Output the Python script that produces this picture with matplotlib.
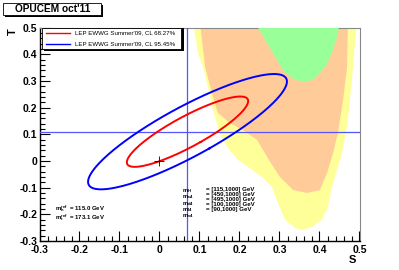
import numpy as np
import matplotlib
matplotlib.use("Agg")
import matplotlib.pyplot as plt
from matplotlib.patches import Rectangle, Polygon
from matplotlib.lines import Line2D

plt.rcParams['font.family'] = ['Liberation Sans', 'DejaVu Sans']
plt.rcParams['mathtext.fontset'] = 'custom'
plt.rcParams['mathtext.rm'] = 'Liberation Sans:bold'
plt.rcParams['mathtext.it'] = 'Liberation Sans:bold'
plt.rcParams['mathtext.bf'] = 'Liberation Sans:bold'

# allowed regions in the (S, T) plane
yellow_s = [0.084, 0.096, 0.109, 0.121, 0.134, 0.151, 0.169, 0.196, 0.221, 0.256, 0.281,
            0.296, 0.314, 0.339, 0.356, 0.381, 0.406, 0.421, 0.431, 0.444, 0.456, 0.464,
            0.471, 0.476, 0.484, 0.489, 0.494]
yellow_t = [0.52, 0.405, 0.352, 0.277, 0.191, 0.105, 0.052, 0.004, -0.022, -0.060, -0.098,
            -0.158, -0.221, -0.251, -0.259, -0.248, -0.221, -0.172, -0.098, -0.034, 0.030, 0.090,
            0.154, 0.229, 0.352, 0.454, 0.52]

orange_s = [0.101, 0.114, 0.131, 0.146, 0.176, 0.209, 0.244, 0.269, 0.301, 0.334, 0.369,
            0.401, 0.419, 0.434, 0.446, 0.459, 0.469, 0.471]
orange_t = [0.52, 0.352, 0.255, 0.180, 0.142, 0.116, 0.079, 0.015, -0.060, -0.109, -0.120,
            -0.109, -0.045, 0.030, 0.105, 0.229, 0.352, 0.52]

green_s = [0.239, 0.264, 0.289, 0.314, 0.339, 0.369, 0.389, 0.414, 0.431, 0.444, 0.451]
green_t = [0.52, 0.454, 0.390, 0.330, 0.304, 0.296, 0.311, 0.352, 0.405, 0.465, 0.52]

# LEP EWWG Summer'09 fit
s0, t0 = 0.07, 0.11
sig_s, sig_t, rho = 0.10, 0.087, 0.87
cl_labels = ["LEP EWWG Summer'09, CL 68.27%", "LEP EWWG Summer'09, CL 95.45%"]
cl_dchi2 = [2.30, 6.18]
cl_colors = ['#ff0000', '#0000ff']

mass_names = [r'$m_{H}$', r'$m_{u4}$', r'$m_{d4}$', r'$m_{l4}$', r'$m_{\nu4}$']
mass_ranges = ['= [115,1000] GeV', '= [450,1000] GeV', '= [495,1000] GeV',
               '= [100,1000] GeV', '= [90,1000] GeV']
ref_names = [r'$m_{h}^{ref}$', r'$m_{t}^{ref}$']
ref_vals = ['= 115.0 GeV', '= 173.1 GeV']

W, H = 399, 270
fig = plt.figure(figsize=(W / 100, H / 100), dpi=100)
ax = fig.add_axes([39.5 / W, 1 - 241 / H, 320 / W, 213.3 / H])

def fx(px):
    return px / W

def fy(py):
    return 1 - py / H

ax.add_patch(Polygon(list(zip(yellow_s, yellow_t)), closed=True, fc='#ffff99', ec='none', zorder=1))
ax.add_patch(Polygon(list(zip(orange_s, orange_t)), closed=True, fc='#ffcc99', ec='none', zorder=2))
ax.add_patch(Polygon(list(zip(green_s, green_t)), closed=True, fc='#99ff99', ec='none', zorder=3))

ax.axvline(s0, color='#5555ff', lw=0.9, zorder=4)
ax.axhline(t0, color='#5555ff', lw=0.9, zorder=4)

# confidence ellipses
cov = np.array([[sig_s ** 2, rho * sig_s * sig_t], [rho * sig_s * sig_t, sig_t ** 2]])
vals, vecs = np.linalg.eigh(cov)
phi = np.linspace(0, 2 * np.pi, 300)
circle = np.vstack([np.cos(phi), np.sin(phi)])
for d, c in zip(cl_dchi2, cl_colors):
    pts = vecs @ (np.sqrt(vals * d)[:, None] * circle)
    ax.plot(s0 + pts[0], t0 + pts[1], color=c, lw=1.4, zorder=5)

ax.plot([0], [0], marker='+', color='black', ms=7, mew=0.6, zorder=6)

ax.set_xlim(-0.3, 0.5)
ax.set_ylim(-0.3, 0.5)
ax.set_xticks(np.arange(-0.3, 0.51, 0.1))
ax.set_yticks(np.arange(-0.3, 0.51, 0.1))
ax.set_xticklabels(['-0.3', '-0.2', '-0.1', '0', '0.1', '0.2', '0.3', '0.4', '0.5'])
ax.set_yticklabels(['-0.3', '-0.2', '-0.1', '0', '0.1', '0.2', '0.3', '0.4', '0.5'])
ax.set_xticks(np.arange(-0.3, 0.51, 0.02), minor=True)
ax.set_yticks(np.arange(-0.3, 0.51, 0.02), minor=True)
ax.tick_params(which='both', direction='in', top=False, right=False, width=0.8)
ax.tick_params(which='major', length=7, labelsize=7.5, pad=1.5)
ax.tick_params(axis='x', which='major', pad=3.2)
ax.tick_params(which='minor', length=3.5)
for lab in ax.get_xticklabels() + ax.get_yticklabels():
    lab.set_fontweight('bold')
for side in ['top', 'right']:
    ax.spines[side].set_color('#888888')
ax.spines['left'].set_linewidth(1.0)
ax.spines['bottom'].set_linewidth(1.0)

fig.text(fx(352), fy(260), 'S', fontsize=8, fontweight='bold', ha='center', va='center')
fig.text(fx(13), fy(32), 'T', fontsize=8, fontweight='bold', ha='center', va='center', rotation=90)

# legend box with shadow
fig.add_artist(Rectangle((fx(44), fy(51)), fx(140), 23 / H, fc='black', ec='none', zorder=10))
fig.add_artist(Rectangle((fx(42), fy(49)), fx(139), 21 / H, fc='white', ec='black', lw=0.6, zorder=11))
for i, (lab, c) in enumerate(zip(cl_labels, cl_colors)):
    y = 33 + 10.5 * i
    fig.add_artist(Line2D([fx(46), fx(70)], [fy(y), fy(y)], color=c, lw=1.0, zorder=12))
    fig.text(fx(75), fy(y), lab, fontsize=4.4, va='center', zorder=12)

# title box with shadow
fig.add_artist(Rectangle((fx(5), fy(17)), fx(98), 12 / H, fc='black', ec='none', zorder=10))
fig.add_artist(Rectangle((fx(3), fy(15)), fx(98), 12 / H, fc='white', ec='black', lw=0.6, zorder=11))
fig.text(fx(53), fy(9.2), "OPUCEM oct'11", fontsize=7.3, fontweight='bold', ha='center', va='center', zorder=12)

# parameter ranges, one block per column
fig.text(fx(182), fy(187), '\n'.join(mass_names), fontsize=4.2, va='top', linespacing=0.68)
fig.text(fx(206), fy(187), '\n'.join(mass_ranges), fontsize=4.4, va='top', linespacing=1.0,
         fontweight='bold')

ref_rows = [n + '  ' + v for n, v in zip(ref_names, ref_vals)]
fig.text(fx(55), fy(203), '\n'.join(ref_rows), fontsize=4.3, va='top', linespacing=0.8,
         fontweight='bold')

fig.savefig('out.png', dpi=100)
